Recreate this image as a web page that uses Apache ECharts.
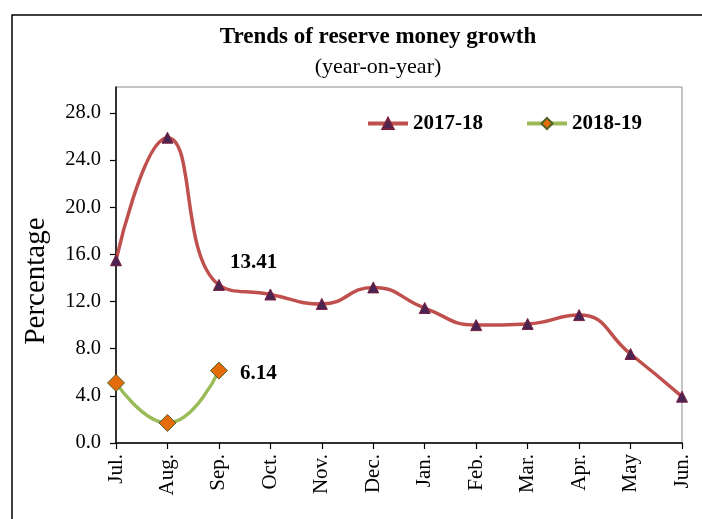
<!DOCTYPE html>
<html>
<head>
<meta charset="utf-8">
<script src="https://cdn.jsdelivr.net/npm/echarts@6/dist/echarts.min.js"></script>
<style>html,body{margin:0;padding:0;background:#fff}#c{width:702px;height:519px}</style>
</head>
<body>
<div id="c"></div>
<script>
var months = ['Jul.', 'Aug.', 'Sep.', 'Oct.', 'Nov.', 'Dec.', 'Jan.', 'Feb.', 'Mar.', 'Apr.', 'May', 'Jun.'];
var fy2017 = [15.5, 25.9, 13.41, 12.6, 11.8, 13.2, 11.45, 10.0, 10.1, 10.85, 7.55, 3.93];
var fy2018 = [5.1, 1.7, 6.14];
var yTicks = [0, 4, 8, 12, 16, 20, 24, 28];

var serif = '"Liberation Serif", "Times New Roman", serif';
var chart = echarts.init(document.getElementById('c'), null, {renderer: 'canvas'});

function withLabel(arr, idx, labelOpt) {
  return arr.map(function (v, i) {
    if (i === idx) return {value: v, label: labelOpt};
    return v;
  });
}

chart.setOption({
  backgroundColor: '#fff',
  animation: false,
  title: [{
    text: 'Trends of reserve money growth',
    left: 373, top: 21, textAlign: 'center',
    textStyle: {fontFamily: serif, fontWeight: 'bold', fontSize: 23, color: '#000'}
  }, {
    text: '(year-on-year)',
    left: 373, top: 51, textAlign: 'center',
    textStyle: {fontFamily: serif, fontWeight: 'normal', fontSize: 22, color: '#000'}
  }],
  graphic: [{
    type: 'rect',
    shape: {x: 12, y: 15, width: 720, height: 540},
    style: {fill: 'none', stroke: '#000', lineWidth: 1.5},
    silent: true
  }],
  legend: {
    top: 108, left: 361,
    itemGap: 42,
    itemWidth: 40, itemHeight: 14,
    lineStyle: {width: 4},
    textStyle: {fontFamily: serif, fontWeight: 'bold', fontSize: 21, color: '#000'},
    data: ['2017-18', '2018-19']
  },
  grid: {
    left: 116, right: 20, top: 87, bottom: 76,
    show: true, borderColor: '#8c8c8c', borderWidth: 1, backgroundColor: 'transparent'
  },
  xAxis: {
    type: 'category',
    data: months,
    boundaryGap: false,
    axisLine: {lineStyle: {color: '#000', width: 1.5}},
    axisTick: {show: true, length: 6, lineStyle: {color: '#000', width: 1.2}},
    axisLabel: {rotate: 90, fontFamily: serif, fontSize: 21, color: '#000', margin: 11, interval: 0}
  },
  yAxis: {
    type: 'value',
    min: yTicks[0], max: 30.2, interval: 4,
    name: 'Percentage',
    nameLocation: 'middle',
    nameGap: 65,
    nameRotate: 90,
    nameTextStyle: {fontFamily: serif, fontSize: 29, color: '#000', padding: [0, 32, 0, 0]},
    splitLine: {show: false},
    axisLine: {show: true, lineStyle: {color: '#000', width: 1.5}},
    axisTick: {show: true, inside: false, length: 6, lineStyle: {color: '#000', width: 1.2}},
    axisLabel: {
      showMaxLabel: false,
      fontFamily: serif, fontSize: 20.5, color: '#000', margin: 15,
      formatter: function (v) { return yTicks.indexOf(v) >= 0 ? v.toFixed(1) : ''; }
    }
  },
  series: [{
    name: '2017-18',
    type: 'line',
    smooth: 0.5,
    data: withLabel(fy2017, 2, {
      show: true, position: 'right', offset: [0, -22],
      formatter: '{c}', fontFamily: serif, fontWeight: 'bold', fontSize: 21, color: '#000'
    }),
    symbol: 'triangle', symbolSize: 11,
    itemStyle: {color: '#4a2452', borderColor: '#7a1f3d', borderWidth: 1},
    lineStyle: {color: '#c0504d', width: 3.5},
    z: 3
  }, {
    name: '2018-19',
    type: 'line',
    smooth: 0.5,
    data: withLabel(fy2018, 2, {
      show: true, position: 'right', distance: 12, offset: [0, 3],
      formatter: '{c}', fontFamily: serif, fontWeight: 'bold', fontSize: 21, color: '#000'
    }),
    symbol: 'diamond', symbolSize: 17,
    itemStyle: {color: '#e46c0a', borderColor: '#4f6228', borderWidth: 1},
    lineStyle: {color: '#9bbb59', width: 3.5},
    z: 4
  }]
});
</script>
</body>
</html>
